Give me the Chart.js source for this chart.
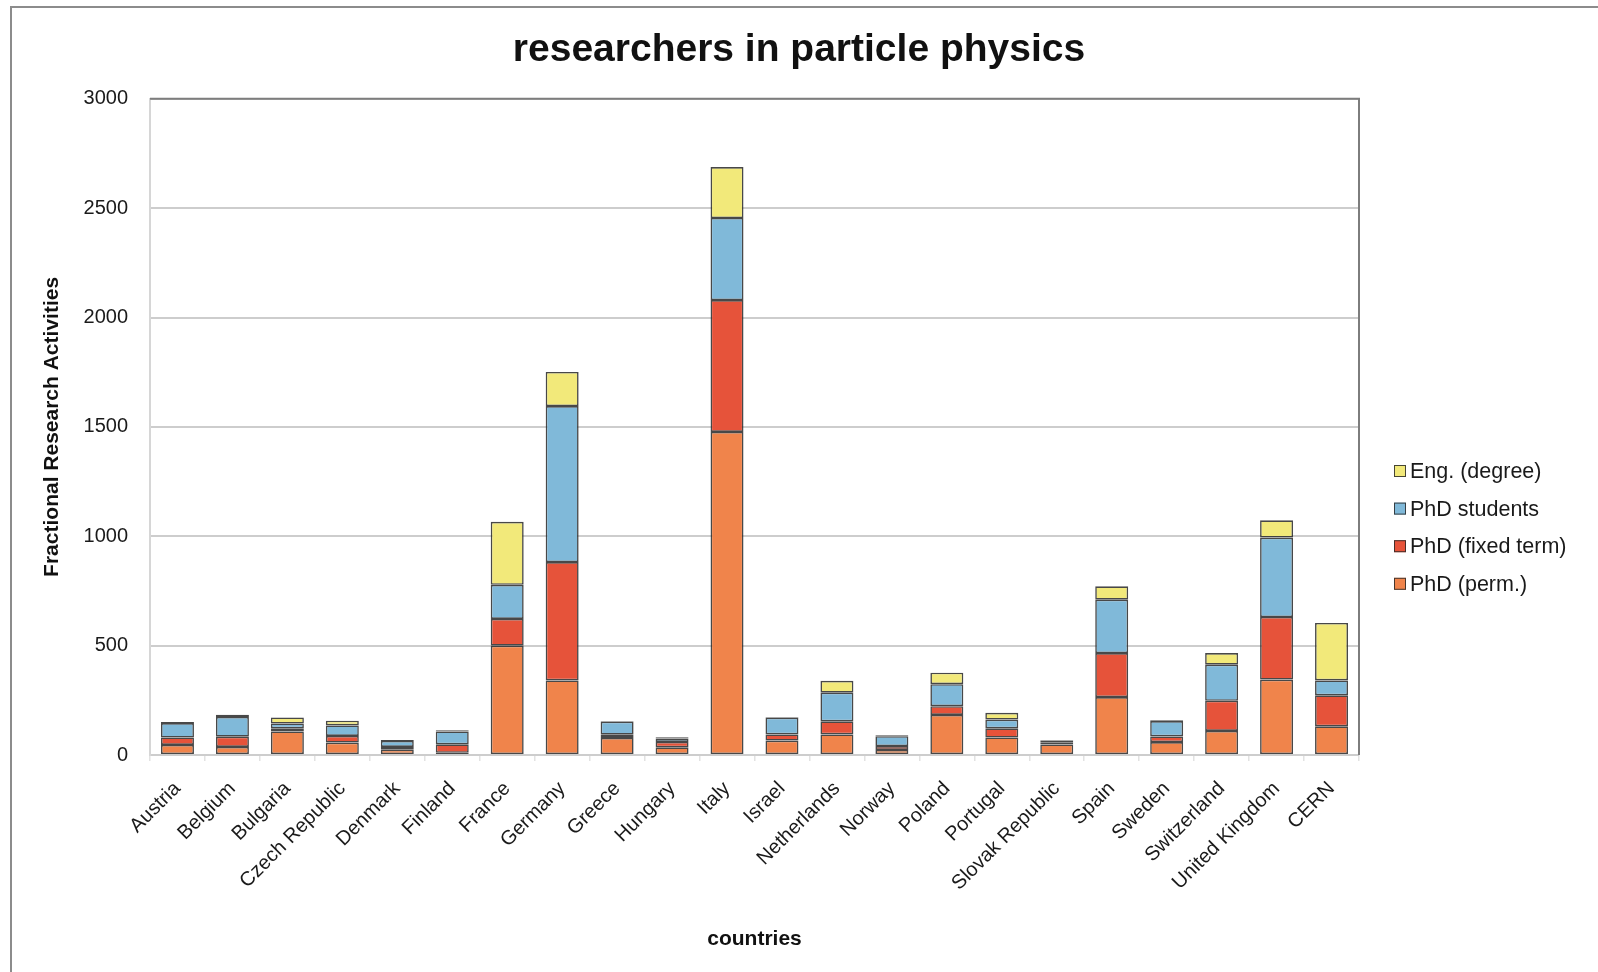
<!DOCTYPE html>
<html>
<head>
<meta charset="utf-8">
<script src="https://cdn.jsdelivr.net/npm/chart.js@4"></script>
<style>
html,body{margin:0;padding:0;background:#fff;overflow:hidden;}
#frame{position:absolute;left:10px;top:6px;width:1700px;height:1100px;border:2px solid #8c8c8c;box-sizing:border-box;}
#c{position:absolute;left:0;top:0;}
</style>
</head>
<body>
<div id="frame"></div>
<canvas id="c" width="1598" height="972"></canvas>
<script>
const countries = ["Austria","Belgium","Bulgaria","Czech Republic","Denmark","Finland","France","Germany","Greece","Hungary","Italy","Israel","Netherlands","Norway","Poland","Portugal","Slovak Republic","Spain","Sweden","Switzerland","United Kingdom","CERN"];
const phdPerm     = [46, 37, 108, 57, 24, 10, 500, 341, 78, 35, 1477, 66, 94, 23, 183, 80, 48, 265, 59, 110, 345, 131];
const phdFixed    = [34, 47, 14, 30, 13, 39, 122, 541, 15, 25, 603, 28, 60, 18, 40, 42, 8, 201, 26, 138, 286, 142];
const phdStudents = [66, 90, 22, 48, 27, 59, 156, 713, 60, 16, 375, 77, 131, 45, 101, 40, 10, 244, 70, 165, 363, 68];
const engDegree   = [5, 10, 28, 22, 5, 5, 288, 156, 3, 5, 233, 3, 54, 4, 52, 31, 3, 61, 4, 53, 79, 263];
const yTicks = [0, 500, 1000, 1500, 2000, 2500, 3000];

const FONT = "'Liberation Sans', Arial, Helvetica, sans-serif";
const edge = 'rgba(40,40,40,0.85)';

const legendPlugin = {
  id: 'customLegend',
  afterDraw(chart) {
    const ctx = chart.ctx;
    const ds = chart.data.datasets.slice().reverse();
    ctx.save();
    ctx.font = '21.5px ' + FONT;
    ctx.textBaseline = 'middle';
    ds.forEach((d, i) => {
      const cy = 471 + i * 37.6;
      ctx.fillStyle = d.backgroundColor;
      ctx.fillRect(1394, cy - 6, 12, 12);
      ctx.strokeStyle = edge;
      ctx.lineWidth = 1;
      ctx.strokeRect(1394.5, cy - 5.5, 11, 11);
      ctx.fillStyle = '#1a1a1a';
      ctx.fillText(d.label, 1410, cy + 1);
    });
    ctx.restore();
  }
};

const framePlugin = {
  id: 'plotFrame',
  afterDatasetsDraw(chart) {
    const a = chart.chartArea, ctx = chart.ctx;
    ctx.save();
    ctx.strokeStyle = '#7d7d7d';
    ctx.lineWidth = 2;
    ctx.beginPath();
    ctx.moveTo(a.left, a.top);
    ctx.lineTo(a.right, a.top);
    ctx.lineTo(a.right, a.bottom);
    ctx.stroke();
    ctx.restore();
  }
};

new Chart(document.getElementById('c'), {
  type: 'bar',
  data: {
    labels: countries,
    datasets: [
      {label: 'PhD (perm.)', data: phdPerm, backgroundColor: '#F0844B'},
      {label: 'PhD (fixed term)', data: phdFixed, backgroundColor: '#E6533A'},
      {label: 'PhD students', data: phdStudents, backgroundColor: '#80B9D9'},
      {label: 'Eng. (degree)', data: engDegree, backgroundColor: '#F2E97A'}
    ].map(d => Object.assign(d, {borderColor: edge, borderWidth: 1.6, borderSkipped: false, categoryPercentage: 1.0, barPercentage: 0.6, yAxisID: 'y'}))
  },
  options: {
    responsive: false,
    animation: false,
    layout: {padding: {left: 0, right: 0, top: 0, bottom: 0}},
    plugins: {
      legend: {display: false},
      tooltip: {enabled: false},
      title: {
        display: true,
        text: 'researchers in particle physics',
        color: '#111',
        font: {family: FONT, size: 39, weight: 'bold'},
        padding: {top: 27, bottom: 25}
      }
    },
    scales: {
      x: {
        stacked: true,
        offset: true,
        grid: {display: true, drawOnChartArea: false, drawTicks: true, tickLength: 6, color: '#e2e2e2', lineWidth: 1.5, offset: true},
        border: {display: false},
        ticks: {
          autoSkip: false, minRotation: 45, maxRotation: 45, padding: 16,
          color: '#1a1a1a', font: {family: FONT, size: 20}
        },
        title: {
          display: true, text: 'countries', color: '#111',
          font: {family: FONT, size: 21, weight: 'bold'},
          padding: {top: 0, bottom: 20}
        },
        afterFit(s) { s.height = 217; }
      },
      y: {
        stacked: true,
        min: 0, max: 3000,
        afterBuildTicks(s) { s.ticks = yTicks.map(v => ({value: v})); },
        grid: {color: '#cdcdcd', lineWidth: 2, drawTicks: false},
        border: {display: true, color: '#d6d6d6', width: 2},
        ticks: {padding: 22, color: '#1a1a1a', font: {family: FONT, size: 20}, callback: v => String(v)},
        title: {
          display: true, text: 'Fractional Research Activities', color: '#111',
          font: {family: FONT, size: 21, weight: 'bold'},
          padding: {top: 40, bottom: 0}
        },
        afterFit(s) { s.width = 150; }
      },
      reserve: {
        type: 'linear',
        position: 'right',
        display: true,
        grid: {display: false},
        border: {display: false},
        ticks: {display: false},
        afterFit(s) { s.width = 239; }
      }
    }
  },
  plugins: [legendPlugin, framePlugin]
});
</script>
</body>
</html>
